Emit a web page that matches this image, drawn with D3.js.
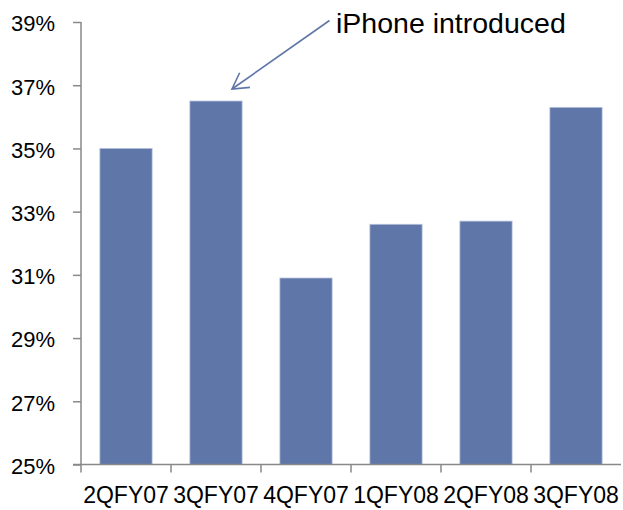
<!DOCTYPE html>
<html>
<head>
<meta charset="utf-8">
<script src="https://cdn.jsdelivr.net/npm/d3@7"></script>
<style>
  html, body { margin: 0; padding: 0; background: #fff; }
  svg { display: block; }
  text { font-family: "Liberation Sans", Arial, sans-serif; fill: #000; }
</style>
</head>
<body>
<svg id="chart" width="623" height="510"></svg>
<script>
// Quarterly gross margin
const quarters = ["2QFY07", "3QFY07", "4QFY07", "1QFY08", "2QFY08", "3QFY08"];
const margins = [35.0, 36.5, 30.9, 32.6, 32.7, 36.3];
const yTicks = [25, 27, 29, 31, 33, 35, 37, 39];
const annotationText = "iPhone introduced";
const annotatedQuarter = "3QFY07";

(function draw() {
  const svg = d3.select("#chart");
  const plotLeft = 81, plotRight = 621, plotTop = 22, plotBottom = 464.5;
  const axisColor = "#898989";
  const barColor = "#5F76A9";

  const x = d3.scaleBand().domain(quarters).range([plotLeft, plotRight]).padding(0);
  const y = d3.scaleLinear().domain([25, 39]).range([plotBottom, plotTop]);
  const barFrac = 0.58;

  // Bars
  svg.append("g").selectAll("rect")
    .data(quarters.map((q, i) => ({ q, v: margins[i] })))
    .join("rect")
    .attr("x", d => x(d.q) + x.bandwidth() * (1 - barFrac) / 2)
    .attr("width", x.bandwidth() * barFrac)
    .attr("y", d => y(d.v))
    .attr("height", d => y(25) - y(d.v))
    .attr("fill", barColor)
    .attr("stroke", "#B4C0DA")
    .attr("stroke-width", 0.8);

  // Y axis
  const yAxis = svg.append("g").attr("transform", `translate(${plotLeft},0)`)
    .call(d3.axisLeft(y).tickValues(yTicks).tickSize(8).tickPadding(18)
      .tickFormat(d => d + "%"));
  yAxis.select(".domain").attr("stroke", axisColor).attr("stroke-width", 1.5)
    .attr("d", `M0,${plotTop}V${plotBottom}`);
  yAxis.selectAll(".tick line").attr("stroke", axisColor).attr("stroke-width", 1.5);
  yAxis.selectAll(".tick text")
    .style("font-size", "22px").attr("fill", "#000")
    .attr("font-family", "Liberation Sans, Arial, sans-serif")
    .attr("dy", "0.4em");

  // X axis: line plus ticks at band boundaries
  const xg = svg.append("g");
  xg.append("line")
    .attr("x1", plotLeft - 8).attr("x2", plotRight)
    .attr("y1", plotBottom).attr("y2", plotBottom)
    .attr("stroke", axisColor).attr("stroke-width", 1.5);
  xg.selectAll("line.tick")
    .data(quarters)
    .join("line")
    .attr("class", "tick")
    .attr("x1", d => x(d)).attr("x2", d => x(d))
    .attr("y1", plotBottom).attr("y2", plotBottom + 8)
    .attr("stroke", axisColor).attr("stroke-width", 1.5);
  xg.selectAll("text")
    .data(quarters)
    .join("text")
    .attr("x", d => x(d) + x.bandwidth() / 2)
    .attr("y", 503)
    .attr("text-anchor", "middle")
    .style("font-size", "23px")
    .text(d => d);

  // Annotation arrow pointing at the bar
  const tipX = x(annotatedQuarter) + x.bandwidth() / 2 + 16;
  const tipY = y(margins[quarters.indexOf(annotatedQuarter)]) - 12;
  const startX = 329.5, startY = 20.5;
  const ang = Math.atan2(startY - tipY, startX - tipX);
  const armLen = 18, armSpread = 0.52;
  svg.append("line")
    .attr("x1", startX).attr("y1", startY)
    .attr("x2", tipX).attr("y2", tipY)
    .attr("stroke", barColor).attr("stroke-width", 1.6);
  svg.append("path")
    .attr("d", `M${tipX + armLen * Math.cos(ang - armSpread)},${tipY + armLen * Math.sin(ang - armSpread)}` +
               `L${tipX},${tipY}` +
               `L${tipX + armLen * Math.cos(ang + armSpread)},${tipY + armLen * Math.sin(ang + armSpread)}`)
    .attr("fill", "none")
    .attr("stroke", barColor).attr("stroke-width", 1.6);

  svg.append("text")
    .attr("x", 336)
    .attr("y", 33)
    .style("font-size", "28.5px")
    .text(annotationText);
})();
</script>
</body>
</html>
